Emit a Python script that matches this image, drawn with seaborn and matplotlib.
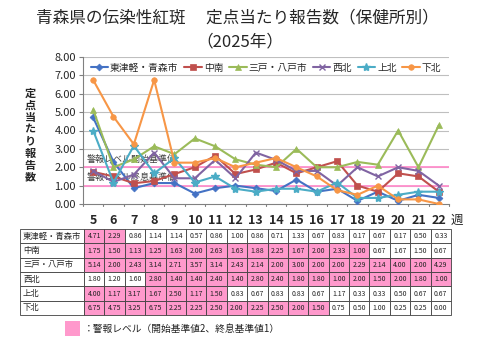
import numpy as np
import pandas as pd
import matplotlib
matplotlib.use("Agg")
import matplotlib.pyplot as plt
from matplotlib.patches import Rectangle
import seaborn as sns

sns.set_style("white")
plt.rcParams['font.family'] = ['Noto Sans CJK JP', 'DejaVu Sans']

weeks = [5, 6, 7, 8, 9, 10, 11, 12, 13, 14, 15, 16, 17, 18, 19, 20, 21, 22]
regions = ["東津軽・青森市", "中南", "三戸・八戸市", "西北", "上北", "下北"]
higashi = [4.71, 2.29, 0.86, 1.14, 1.14, 0.57, 0.86, 1.00, 0.86, 0.71, 1.33, 0.67, 0.83, 0.17, 0.67, 0.17, 0.50, 0.33]
chunan = [1.75, 1.50, 1.13, 1.25, 1.63, 2.00, 2.63, 1.63, 1.88, 2.25, 1.67, 2.00, 2.33, 1.00, 0.67, 1.67, 1.50, 0.67]
sannohe = [5.14, 2.00, 2.43, 3.14, 2.71, 3.57, 3.14, 2.43, 2.14, 2.00, 3.00, 2.00, 2.00, 2.29, 2.14, 4.00, 2.00, 4.29]
seihoku = [1.80, 1.20, 1.60, 2.80, 1.40, 1.40, 2.40, 1.40, 2.80, 2.40, 1.80, 1.80, 1.00, 2.00, 1.50, 2.00, 1.80, 1.00]
kamikita = [4.00, 1.17, 3.17, 1.67, 2.50, 1.17, 1.50, 0.83, 0.67, 0.83, 0.83, 0.67, 1.17, 0.33, 0.33, 0.50, 0.67, 0.67]
shimokita = [6.75, 4.75, 3.25, 6.75, 2.25, 2.25, 2.50, 2.00, 2.25, 2.50, 2.00, 1.50, 0.75, 0.50, 1.00, 0.25, 0.25, 0.00]
series = [higashi, chunan, sannohe, seihoku, kamikita, shimokita]
initial_alert = [True, True, True, False, True, True]
start_level = 2
end_level = 1

colors = ["#4472C4", "#C0504D", "#9BBB59", "#8064A2", "#4BACC6", "#F79646"]
markers = ["D", "s", "^", "x", "*", "o"]
msizes = [3.5, 4, 4, 5, 6, 4]
pink = "#FF99CC"

fig = plt.figure(figsize=(4.8, 3.6), dpi=100)
W, H = 480, 360

# main axes
ax_l, ax_r, ax_t, ax_b = 83, 449, 57, 204
ax = fig.add_axes([ax_l / W, 1 - ax_b / H, (ax_r - ax_l) / W, (ax_b - ax_t) / H])
x = np.arange(len(weeks))

for ylev in range(1, 9):
    ax.axhline(ylev, color="#BFBFBF", lw=0.8, zorder=0)
ax.axhline(start_level, color="#FF8FCC", lw=1.3, zorder=1)
ax.axhline(end_level, color="#FF8FCC", lw=1.3, zorder=1)
ax.text(-0.3, 2.45, "警報レベル開始基準値", fontsize=6.5, color="#404040", va="center", zorder=0.5)
ax.text(-0.3, 1.42, "警報レベル終息基準値", fontsize=6.5, color="#404040", va="center", zorder=0.5)

for name, vals, c, m, ms in zip(regions, series, colors, markers, msizes):
    df = pd.DataFrame({"x": x, "y": vals})
    sns.lineplot(data=df, x="x", y="y", ax=ax, color=c, marker=m, markersize=ms,
                 markeredgecolor=c, markeredgewidth=1 if m in ("x", "*") else 0.5,
                 lw=1.5, label=name, zorder=3)

ax.set_xlim(-0.5, len(weeks) - 0.5)
ax.set_ylim(0, 8)
ax.set_yticks(range(0, 9))
ax.set_yticklabels([f"{v:.2f}" for v in range(0, 9)], fontsize=8)
ax.set_xticks(x)
ax.set_xticklabels([str(w) for w in weeks], fontsize=9, fontweight="bold")
ax.tick_params(axis="x", length=0, pad=7)
ax.tick_params(axis="y", length=3, color="#808080", pad=2, left=True)
ax.set_xlabel("")
ax.set_ylabel("")
for s in ["top", "right"]:
    ax.spines[s].set_visible(False)
ax.spines["left"].set_color("#808080")
ax.spines["bottom"].set_color("#808080")
for b in np.arange(-0.5, len(weeks), 1.0):
    ax.plot([b, b], [0, -0.12], color="#808080", lw=0.8, clip_on=False)
ax.text(1.005, -0.11, "週", transform=ax.transAxes, fontsize=9, va="center", ha="left")

leg = ax.legend(loc="upper center", bbox_to_anchor=(0.5, 1.02), ncol=6, frameon=False,
                fontsize=7, handlelength=1.8, handletextpad=0.2, columnspacing=0.6)

fig.text(237 / W, 1 - 18 / H, "青森県の伝染性紅斑　 定点当たり報告数（保健所別）", ha="center", va="center",
         fontsize=12)
fig.text(240 / W, 1 - 42 / H, "（2025年）", ha="center", va="center", fontsize=12)

# vertical y label
fig.text(30 / W, 1 - 135 / H, "\n".join("定点当たり報告数"), ha="center", va="center",
         fontsize=8, fontweight="bold", linespacing=0.9)

# table
tax = fig.add_axes([0, 0, 1, 1])
tax.set_xlim(0, W)
tax.set_ylim(H, 0)
tax.axis("off")
t_left, t_lab, t_right, t_top, t_bot = 20, 84, 451, 229, 315
cw = (t_right - t_lab) / len(weeks)
rh = (t_bot - t_top) / len(regions)
for r, (name, vals, init) in enumerate(zip(regions, series, initial_alert)):
    y0 = t_top + r * rh
    tax.add_patch(Rectangle((t_left, y0), t_lab - t_left, rh, facecolor="white", edgecolor="#404040", lw=0.6))
    tax.text(t_left + 3, y0 + rh / 2, name, fontsize=6, va="center", ha="left")
    state = init
    for i, v in enumerate(vals):
        if state and v < end_level:
            state = False
        elif (not state) and v >= start_level:
            state = True
        x0 = t_lab + i * cw
        tax.add_patch(Rectangle((x0, y0), cw, rh, facecolor=pink if state else "white",
                                edgecolor="#404040", lw=0.6))
        tax.text(x0 + cw / 2, y0 + rh / 2 + 0.3, f"{v:.2f}", fontsize=5, va="center", ha="center", color="#222222")

tax.add_patch(Rectangle((65, 321), 15, 15, facecolor=pink, edgecolor="none"))
tax.text(84, 329, "：警報レベル（開始基準値2、終息基準値1）", fontsize=7, va="center", ha="left", color="#222222")

fig.savefig("out.png", dpi=100)
